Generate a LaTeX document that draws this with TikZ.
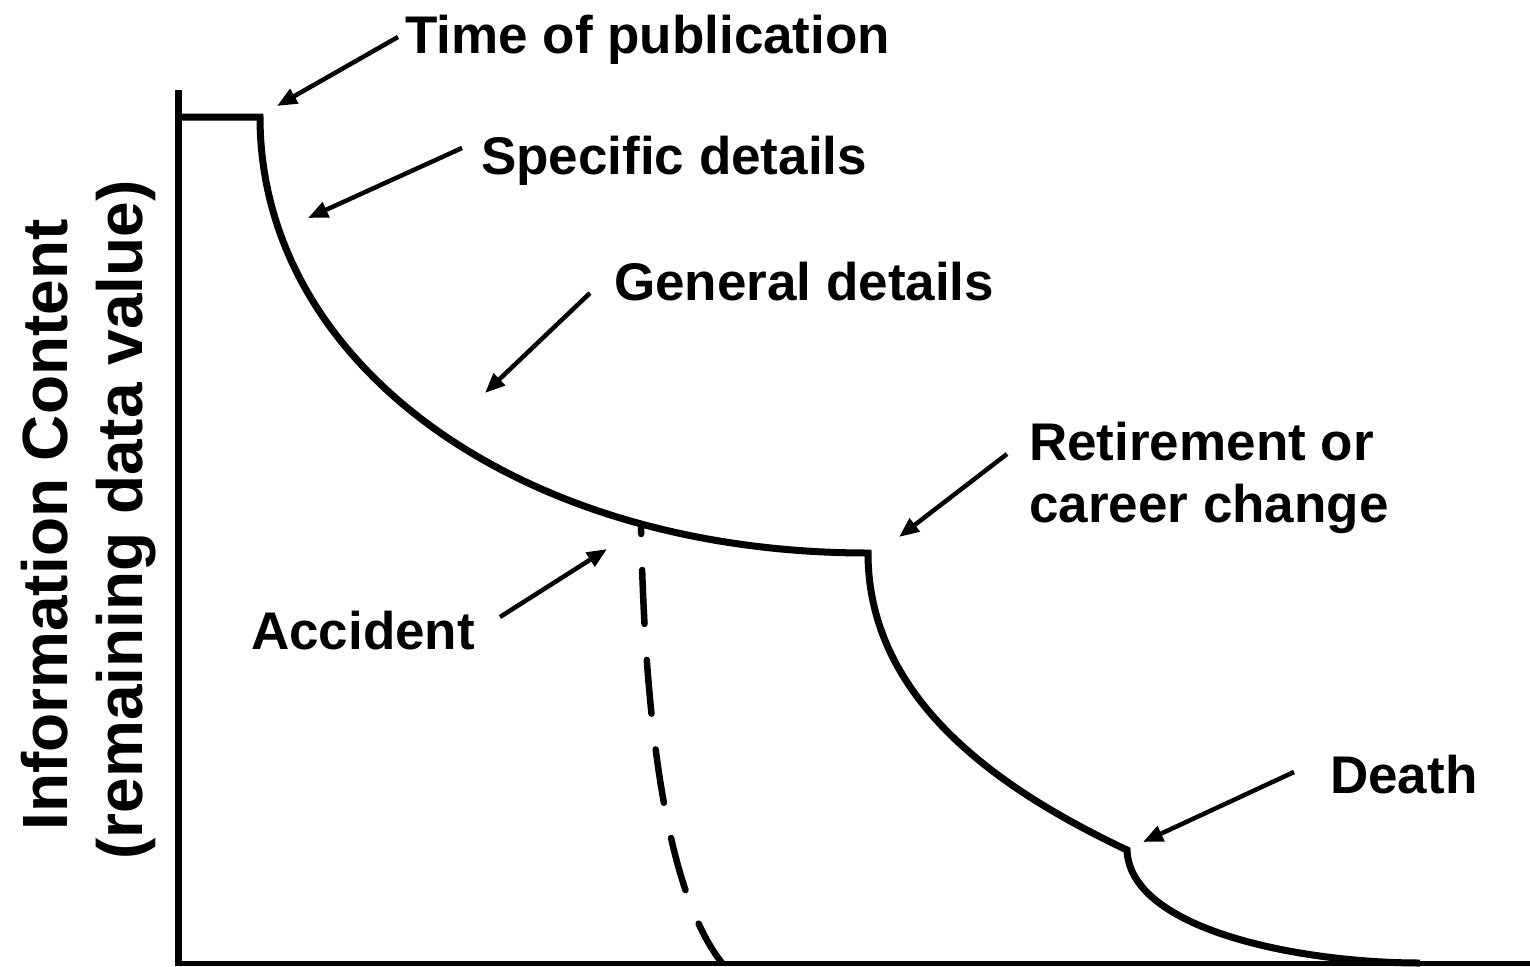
\documentclass[tikz,border=0pt]{standalone}
\usepackage{fontspec}
\setmainfont{Liberation Sans}
\usetikzlibrary{arrows.meta}
\begin{document}
\begin{tikzpicture}[x=1pt,y=-1pt,
  lbl/.style={font=\fontsize{53}{62}\selectfont\bfseries, inner sep=0pt, anchor=base west},
  ylbl/.style={font=\fontsize{64}{75}\selectfont\bfseries, inner sep=0pt, anchor=base, rotate=90},
  pointer/.style={line width=4.5pt, -{Triangle[length=20pt,width=16pt]}},
  curve/.style={line width=7pt, line join=miter},
  dashcurve/.style={line width=6.5pt, line cap=round, dash pattern=on 54pt off 36pt, dash phase=45pt},
  axis/.style={line width=7pt},
  baseaxis/.style={line width=5pt}]
\useasboundingbox (0,0) rectangle (1530,966);

% axes
\draw[axis] (178,90) -- (178,966);
\draw[baseaxis] (175,963.5) -- (1530,963.5);

% main decay curve
\draw[curve] (178,117) -- (260,117)
  .. controls (260,365) and (520,553) .. (868,553)
  .. controls (868,700) and (1000,790) .. (1127,850)
  .. controls (1130,930) and (1300,963) .. (1420,963);

% accident curve
\draw[dashcurve] (641,525) .. controls (645,750) and (672,900) .. (722,963);

% labels
\node[lbl] (pub) at (405,53) {Time of publication};
\node[lbl] (spec) at (481,174) {Specific details};
\node[lbl] (gen) at (614,300) {General details};
\node[lbl] (ret1) at (1029,460) {Retirement or};
\node[lbl] (ret2) at (1029,522) {career change};
\node[lbl] (acc) at (251,649) {Accident};
\node[lbl] (death) at (1330,793) {Death};
\node[ylbl] (yl1) at (67,525) {Information Content};
\node[ylbl] (yl2) at (142,520) {(remaining data value)};

% arrow ends
\coordinate (pubT) at (398,37);   \coordinate (pubH) at (277,106);
\coordinate (specT) at (462,148); \coordinate (specH) at (308,218);
\coordinate (genT) at (590,293);  \coordinate (genH) at (485,393);
\coordinate (retT) at (1007,454); \coordinate (retH) at (899,537);
\coordinate (accT) at (500,617);  \coordinate (accH) at (607,549);
\coordinate (deathT) at (1294,772); \coordinate (deathH) at (1143,842);

\draw[pointer] (pubT) -- (pubH);
\draw[pointer] (specT) -- (specH);
\draw[pointer] (genT) -- (genH);
\draw[pointer] (retT) -- (retH);
\draw[pointer] (accT) -- (accH);
\draw[pointer] (deathT) -- (deathH);
\end{tikzpicture}
\end{document}
